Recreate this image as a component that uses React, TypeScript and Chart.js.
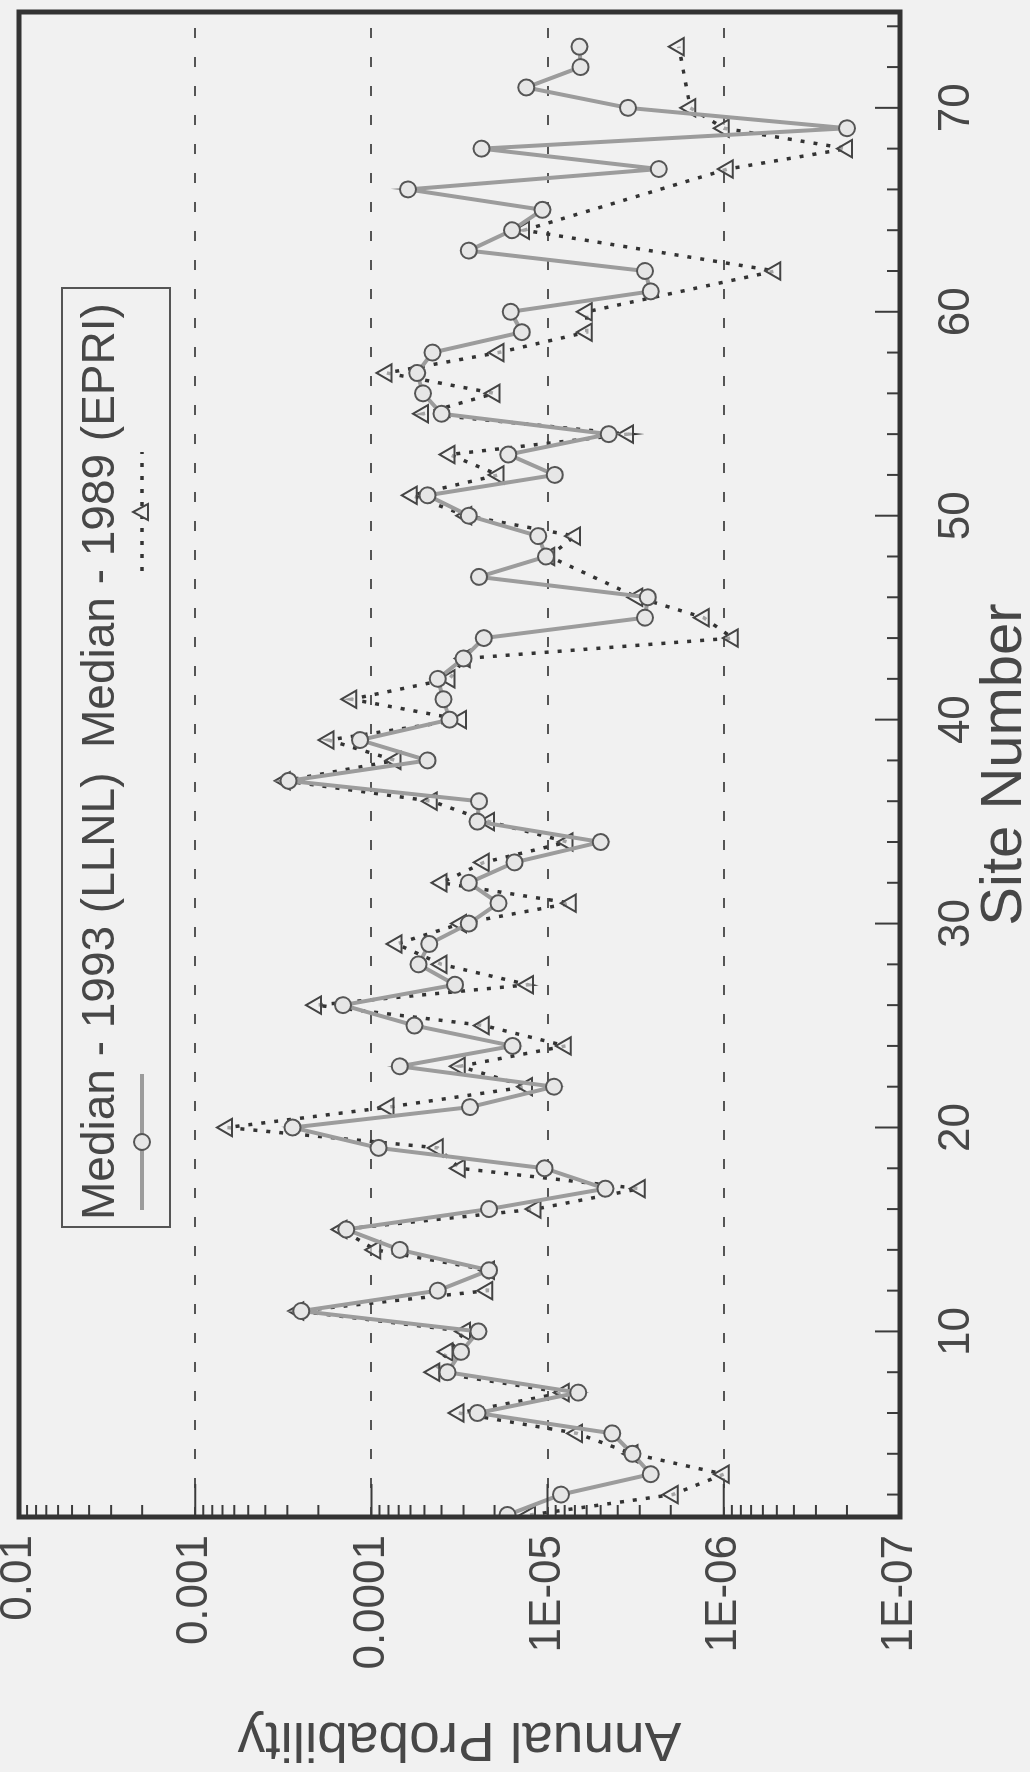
import React, { useEffect, useRef } from 'react';
import { Chart, registerables } from 'chart.js';

Chart.register(...registerables);

// ---- Data ----
const siteNumbers = [
  1, 2, 3, 4, 5, 6, 7, 8, 9, 10,
  11, 12, 13, 14, 15, 16, 17, 18, 19, 20,
  21, 22, 23, 24, 25, 26, 27, 28, 29, 30,
  31, 32, 33, 34, 35, 36, 37, 38, 39, 40,
  41, 42, 43, 44, 45, 46, 47, 48, 49, 50,
  51, 52, 53, 54, 55, 56, 57, 58, 59, 60,
  61, 62, 63, 64, 65, 66, 67, 68, 69, 70,
  71, 72, 73,
];

const llnl1993 = [
  1.69e-5, 8.4e-6, 2.6e-6, 3.3e-6, 4.3e-6, 2.5e-5, 6.7e-6, 3.7e-5, 3.1e-5, 2.47e-5,
  2.5e-4, 4.2e-5, 2.15e-5, 6.9e-5, 1.39e-4, 2.15e-5, 4.7e-6, 1.04e-5, 9.1e-5, 2.8e-4,
  2.76e-5, 9.2e-6, 6.9e-5, 1.58e-5, 5.7e-5, 1.45e-4, 3.35e-5, 5.4e-5, 4.7e-5, 2.8e-5,
  1.9e-5, 2.8e-5, 1.54e-5, 5.0e-6, 2.5e-5, 2.45e-5, 2.95e-4, 4.8e-5, 1.16e-4, 3.6e-5,
  3.9e-5, 4.2e-5, 3.0e-5, 2.3e-5, 2.8e-6, 2.7e-6, 2.45e-5, 1.02e-5, 1.13e-5, 2.8e-5,
  4.8e-5, 9.1e-6, 1.67e-5, 4.5e-6, 4.0e-5, 5.1e-5, 5.5e-5, 4.5e-5, 1.4e-5, 1.62e-5,
  2.6e-6, 2.8e-6, 2.8e-5, 1.59e-5, 1.07e-5, 6.2e-5, 2.34e-6, 2.37e-5, 2.0e-7, 3.5e-6,
  1.32e-5, 6.5e-6, 6.6e-6,
];

const epri1989 = [
  1.26e-5, 1.95e-6, 1.0e-6, 3.3e-6, 6.8e-6, 3.2e-5, 8.1e-6, 4.4e-5, 3.7e-5, 2.94e-5,
  2.6e-4, 2.2e-5, 2.15e-5, 9.5e-5, 1.48e-4, 1.17e-5, 3.0e-6, 3.15e-5, 4.2e-5, 6.6e-4,
  8.0e-5, 1.31e-5, 3.15e-5, 7.9e-6, 2.3e-5, 2.06e-4, 1.29e-5, 4.0e-5, 7.2e-5, 3.1e-5,
  7.4e-6, 4.0e-5, 2.3e-5, 7.7e-6, 2.15e-5, 4.55e-5, 3.1e-4, 7.3e-5, 1.75e-4, 3.1e-5,
  1.3e-4, 3.6e-5, 2.95e-5, 8.9e-7, 1.3e-6, 3.1e-6, null, 9.8e-6, 7.0e-6, 2.9e-5,
  5.9e-5, 1.9e-5, 3.6e-5, 3.5e-6, 5.1e-5, 2.0e-5, 8.2e-5, 1.9e-5, 6.0e-6, 6.0e-6,
  null, 5.1e-7, null, 1.36e-5, null, null, 9.5e-7, 2.0e-7, 1.0e-6, 1.55e-6,
  null, null, 1.8e-6,
];

const probTickValues = [1e-2, 1e-3, 1e-4, 1e-5, 1e-6, 1e-7];
const probTickLabels = ['0.01', '0.001', '0.0001', '1E-05', '1E-06', '1E-07'];
const siteTickValues = [10, 20, 30, 40, 50, 60, 70];

const seriesNames = ['Median - 1993 (LLNL)', 'Median - 1989 (EPRI)'];
const yTitle = 'Annual Probability';
const xTitle = 'Site Number';

// ---- Canvas geometry (unrotated; the page shows it turned 90deg counter-clockwise) ----
const W = 1772;
const H = 1030;
const BG = '#f1f1f1';
const INK = '#474747';
const FONT = '"Liberation Sans", Arial, Helvetica, sans-serif';

const decorPlugin = {
  id: 'decor',
  afterDatasetsDraw(chart: any) {
    const { ctx, chartArea } = chart;
    const { left, right, top, bottom } = chartArea;
    const ys = chart.scales.y;
    const xs = chart.scales.x;
    ctx.save();
    ctx.strokeStyle = '#3c3c3c';
    ctx.lineWidth = 2;
    // log ticks on the probability axis (inside)
    for (let e = -7; e <= -3; e++) {
      for (let k = 1; k <= 9; k++) {
        const v = k * Math.pow(10, e);
        const py = ys.getPixelForValue(v);
        if (py < top + 1 || py > bottom - 1) continue;
        const len = k === 1 ? 33 : 12;
        ctx.beginPath();
        ctx.moveTo(left, py);
        ctx.lineTo(left + len, py);
        ctx.stroke();
      }
    }
    // site ticks (inside, from bottom)
    for (let s = 2; s <= 74; s += 2) {
      const px = xs.getPixelForValue(s);
      if (px < left + 1 || px > right - 1) continue;
      const len = s % 10 === 0 ? 25 : 13;
      ctx.beginPath();
      ctx.moveTo(px, bottom);
      ctx.lineTo(px, bottom - len);
      ctx.stroke();
    }
    // frame
    ctx.lineWidth = 5;
    ctx.strokeStyle = '#333333';
    ctx.strokeRect(left, top, right - left, bottom - top);
    ctx.restore();
  },
  afterDraw(chart: any) {
    const { ctx } = chart;
    ctx.save();
    // legend box
    ctx.strokeStyle = '#555555';
    ctx.lineWidth = 2;
    ctx.strokeRect(545, 62, 939, 108);
    ctx.fillStyle = INK;
    ctx.font = `46px ${FONT}`;
    ctx.textBaseline = 'middle';
    ctx.textAlign = 'left';
    ctx.fillText(seriesNames[0], 552, 101);
    ctx.fillText(seriesNames[1], 1024, 101);
    // sample 1: solid grey line with circle
    ctx.strokeStyle = '#9c9c9c';
    ctx.lineWidth = 4;
    ctx.beginPath();
    ctx.moveTo(562, 142);
    ctx.lineTo(698, 142);
    ctx.stroke();
    ctx.beginPath();
    ctx.arc(630, 142, 8, 0, Math.PI * 2);
    ctx.fillStyle = '#e6e6e6';
    ctx.fill();
    ctx.strokeStyle = '#555555';
    ctx.lineWidth = 2;
    ctx.stroke();
    // sample 2: dotted line with triangle
    ctx.strokeStyle = '#333333';
    ctx.lineWidth = 3.5;
    ctx.setLineDash([4, 9]);
    ctx.beginPath();
    ctx.moveTo(1201, 142);
    ctx.lineTo(1320, 142);
    ctx.stroke();
    ctx.setLineDash([]);
    ctx.beginPath();
    ctx.moveTo(1260, 133);
    ctx.lineTo(1268, 148);
    ctx.lineTo(1252, 148);
    ctx.closePath();
    ctx.fillStyle = '#eeeeee';
    ctx.fill();
    ctx.strokeStyle = '#444444';
    ctx.lineWidth = 2;
    ctx.stroke();
    ctx.restore();
  },
};

export default function App() {
  const canvasRef = useRef<HTMLCanvasElement | null>(null);

  useEffect(() => {
    document.documentElement.style.overflow = 'hidden';
    document.body.style.background = BG;
    document.body.style.margin = '0';
    const canvas = canvasRef.current;
    if (!canvas) return;

    const llnlPoints = siteNumbers.map((s, i) => ({ x: s, y: llnl1993[i] }));
    const epriPoints = siteNumbers.map((s, i) => ({ x: s, y: epri1989[i] }));

    const chart = new Chart(canvas, {
      type: 'line',
      data: {
        datasets: [
          {
            label: seriesNames[0],
            data: llnlPoints as any,
            borderColor: '#9c9c9c',
            borderWidth: 4,
            pointStyle: 'circle',
            pointRadius: 8,
            pointBorderWidth: 2,
            pointBorderColor: '#555555',
            pointBackgroundColor: '#e6e6e6',
            tension: 0,
            fill: false,
          },
          {
            label: seriesNames[1],
            data: epriPoints as any,
            borderColor: '#333333',
            borderWidth: 3.5,
            borderDash: [4, 9],
            pointStyle: 'triangle',
            pointRadius: 10,
            pointBorderWidth: 2,
            pointBorderColor: '#444444',
            pointBackgroundColor: 'rgba(240,240,240,0.6)',
            spanGaps: true,
            tension: 0,
            fill: false,
          },
        ],
      },
      options: {
        responsive: false,
        animation: false,
        devicePixelRatio: 1,
        layout: { padding: { left: 0, right: 8, top: 19, bottom: 0 } },
        plugins: {
          legend: { display: false },
          tooltip: { enabled: false },
        },
        scales: {
          x: {
            type: 'linear',
            position: 'bottom',
            min: 0.9,
            max: 74.7,
            afterBuildTicks: (scale: any) => {
              scale.ticks = siteTickValues.map((v) => ({ value: v }));
            },
            afterFit: (scale: any) => {
              scale.height = 130;
            },
            grid: { display: false, drawTicks: false },
            border: { display: false },
            ticks: {
              padding: 39,
              color: INK,
              font: { family: FONT, size: 44, lineHeight: 0.8 },
              maxRotation: 0,
              minRotation: 0,
              callback: (v: any) => String(v),
            },
            title: {
              display: true,
              text: xTitle,
              color: INK,
              font: { family: FONT, size: 58, lineHeight: 0.85 },
              padding: { top: 0, bottom: 0 },
            },
          },
          y: {
            type: 'logarithmic',
            position: 'left',
            min: 1e-7,
            max: 1e-2,
            afterBuildTicks: (scale: any) => {
              scale.ticks = probTickValues.map((v) => ({ value: v }));
            },
            afterFit: (scale: any) => {
              scale.width = 255;
            },
            grid: {
              drawTicks: true,
              tickLength: 18,
              tickColor: 'rgba(0,0,0,0)',
              lineWidth: 2,
              color: (ctx: any) => {
                const v = ctx.tick ? ctx.tick.value : null;
                if (v === 1e-2 || v === 1e-7) return 'rgba(0,0,0,0)';
                return '#555555';
              },
            },
            border: { display: false, dash: [10, 19] },
            ticks: {
              padding: 0,
              color: INK,
              font: { family: FONT, size: 44, lineHeight: 0.8 },
              callback: (v: any) => {
                const idx = probTickValues.findIndex((p) => Math.abs(Math.log10(p) - Math.log10(v)) < 1e-6);
                return idx >= 0 ? probTickLabels[idx] : '';
              },
            },
            title: {
              display: true,
              text: yTitle,
              color: INK,
              font: { family: FONT, size: 55, lineHeight: 1 },
              padding: { top: 6, bottom: 0 },
            },
          },
        },
      },
      plugins: [decorPlugin],
    });

    return () => {
      chart.destroy();
    };
  }, []);

  return (
    <div
      style={{
        position: 'absolute',
        left: 0,
        top: 0,
        width: W,
        height: H,
        background: BG,
        transformOrigin: '0 0',
        transform: `translate(0px, ${W}px) rotate(-90deg)`,
      }}
    >
      <canvas ref={canvasRef} width={W} height={H} style={{ width: W, height: H, display: 'block' }} />
    </div>
  );
}
